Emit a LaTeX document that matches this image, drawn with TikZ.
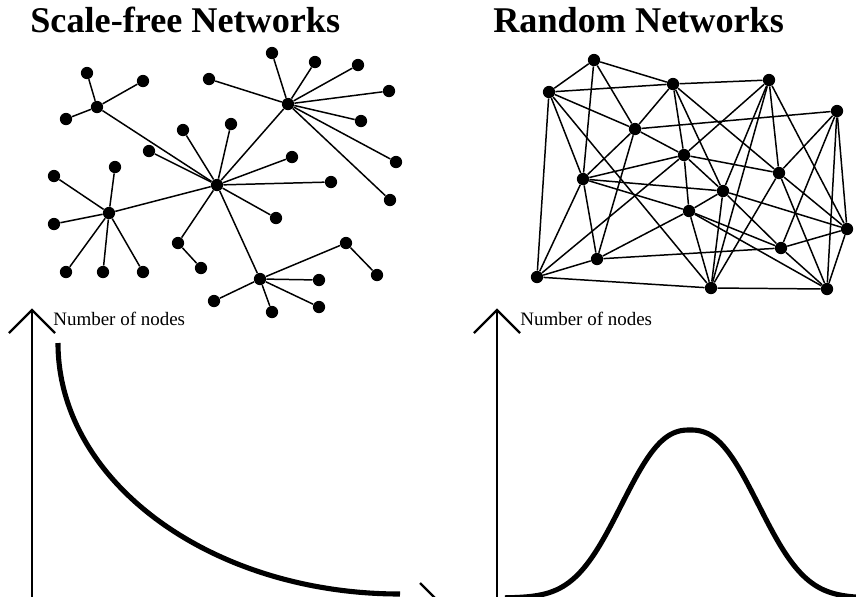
\documentclass[tikz,border=0pt]{standalone}
\usepackage{fontspec}
\setmainfont{Liberation Serif}

\begin{document}
\begin{tikzpicture}[x=0.02cm,y=-0.02cm]
  %--------------------------------------------
  % Styles
  %--------------------------------------------
  \tikzset{
    dot/.style={circle, fill=black, inner sep=0pt, minimum size=7pt},
    link/.style={line width=0.85pt, black},
    axis/.style={line width=1.3pt, black},
    curve/.style={line width=2.9pt, black},
    title/.style={font=\fontsize{20.6}{24}\selectfont\bfseries, anchor=base west, inner sep=0pt},
    axislabel/.style={font=\fontsize{10.8}{13}\selectfont, anchor=base west, inner sep=0pt}
  }
  \useasboundingbox (0,0) rectangle (856,596);
  \clip (0,0) rectangle (856,596);

  %--------------------------------------------
  % Titles
  %--------------------------------------------
  \node[title] (sftitle) at (30,32) {Scale-free Networks};
  \node[title] (rntitle) at (493,32) {Random Networks};

  %--------------------------------------------
  % Scale-free network: a few hubs with many leaves
  %--------------------------------------------
  \foreach \n/\x/\y in {sfA/97/107, sfA1/87/73, sfA2/143/81, sfA3/66/119,
      sfB/288/104, sfB1/209/79, sfB2/272/53, sfB3/315/62, sfB4/358/65,
      sfB5/389/91, sfB6/361/121, sfB7/396/162, sfB8/390/200,
      sfC/217/185, sfC1/183/130, sfC2/149/151, sfC3/231/124, sfC4/292/157,
      sfC5/331/182, sfC6/276/218, sfC7/178/243, sfC8/201/268,
      sfD/109/213, sfD1/54/176, sfD2/115/167, sfD3/54/224, sfD4/66/272,
      sfD5/103/272, sfD6/143/272,
      sfE/260/279, sfE1/346/243, sfE2/377/275, sfE3/319/280, sfE4/319/307,
      sfE5/272/312, sfE6/214/301}{
    \node[dot] (\n) at (\x,\y) {};
  }
  \foreach \a/\b in {sfC/sfA, sfC/sfB, sfC/sfD, sfC/sfE,
      sfC/sfC1, sfC/sfC2, sfC/sfC3, sfC/sfC4, sfC/sfC5, sfC/sfC6, sfC/sfC7, sfC7/sfC8,
      sfA/sfA1, sfA/sfA2, sfA/sfA3,
      sfB/sfB1, sfB/sfB2, sfB/sfB3, sfB/sfB4, sfB/sfB5, sfB/sfB6, sfB/sfB7, sfB/sfB8,
      sfD/sfD1, sfD/sfD2, sfD/sfD3, sfD/sfD4, sfD/sfD5, sfD/sfD6,
      sfE/sfE1, sfE1/sfE2, sfE/sfE3, sfE/sfE4, sfE/sfE5, sfE/sfE6}{
    \draw[link] (\a) -- (\b);
  }

  %--------------------------------------------
  % Random network: evenly spread links
  %--------------------------------------------
  \foreach \n/\x/\y in {rn1/594/60, rn2/549/92, rn3/673/84, rn4/769/80,
      rn5/635/129, rn6/837/111, rn7/684/155, rn8/583/179, rn9/779/173,
      rn10/723/191, rn11/689/211, rn12/847/229, rn13/781/248, rn14/597/259,
      rn15/537/277, rn16/711/288, rn17/827/289}{
    \node[dot] (\n) at (\x,\y) {};
  }
  \foreach \a/\b in {rn1/rn2, rn1/rn3, rn1/rn5, rn1/rn8,
      rn2/rn3, rn2/rn5, rn2/rn8, rn2/rn15, rn2/rn16,
      rn3/rn4, rn3/rn5, rn3/rn7, rn3/rn9, rn3/rn10,
      rn4/rn7, rn4/rn9, rn4/rn10, rn4/rn12, rn4/rn16,
      rn5/rn6, rn5/rn7, rn5/rn8, rn5/rn14,
      rn6/rn9, rn6/rn12, rn6/rn13, rn6/rn17,
      rn7/rn8, rn7/rn9, rn7/rn10, rn7/rn11, rn7/rn15,
      rn8/rn10, rn8/rn11, rn8/rn14, rn8/rn15,
      rn9/rn12, rn9/rn16, rn9/rn17,
      rn10/rn11, rn10/rn12, rn10/rn13, rn10/rn16,
      rn11/rn13, rn11/rn14, rn11/rn16, rn11/rn17,
      rn12/rn13, rn12/rn17, rn13/rn14, rn13/rn17,
      rn14/rn15, rn15/rn16, rn16/rn17}{
    \draw[link] (\a) -- (\b);
  }

  %--------------------------------------------
  % Degree distribution, scale-free (left)
  %--------------------------------------------
  \coordinate (ytipL) at (32,310);
  \coordinate (xtipL) at (443,606);
  \draw[axis] (32,606) -- (ytipL);
  \draw[axis] (9,333) -- (ytipL) -- (55,333);
  \draw[axis] (32,606) -- (xtipL);
  \draw[axis] (420,583) -- (xtipL) -- (420,629);
  \node[axislabel] (ylabelL) at (53,325) {Number of nodes};

  % decaying curve
  \draw[curve] (58,343) arc[start angle=180, end angle=90, x radius=342, y radius=251];

  %--------------------------------------------
  % Degree distribution, random (right)
  %--------------------------------------------
  \coordinate (ytipR) at (497,310);
  \draw[axis] (497,606) -- (ytipR);
  \draw[axis] (474,333) -- (ytipR) -- (520,333);
  \node[axislabel] (ylabelR) at (520,325) {Number of nodes};

  % bell curve
  \draw[curve] plot[domain=505:870, samples=120, smooth]
    (\x, {598-168*exp(-(abs(\x-690)/85)^2.45)});
\end{tikzpicture}
\end{document}
